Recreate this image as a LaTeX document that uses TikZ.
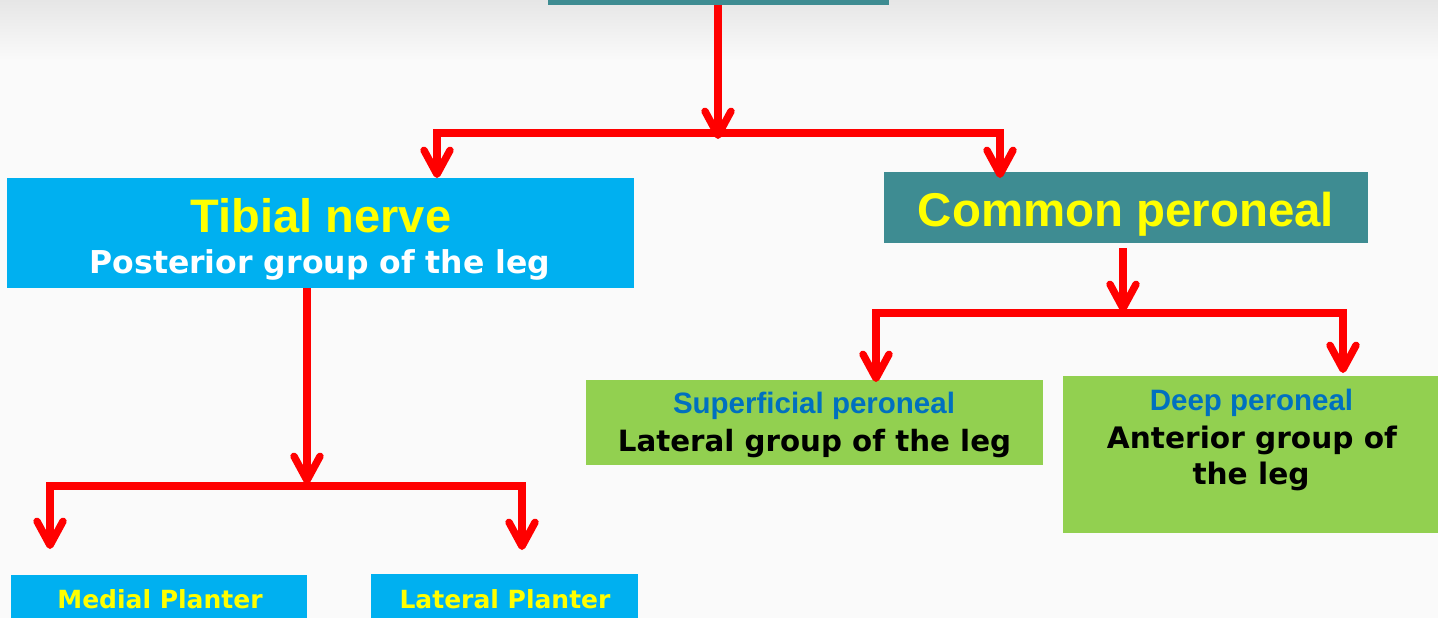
\documentclass[tikz,border=0pt]{standalone}
\usepackage{fontspec}
\setmainfont{Liberation Sans}
\newfontfamily\verd{DejaVu Sans}
\usetikzlibrary{arrows.meta}
\definecolor{tibblue}{HTML}{00B0F0}
\definecolor{tealbox}{HTML}{3E8C92}
\definecolor{grn}{HTML}{92D050}
\definecolor{ylw}{HTML}{FFFF00}
\definecolor{txtblue}{HTML}{0070C0}
\definecolor{bg}{HTML}{FAFAFA}
\definecolor{bgtop}{HTML}{E6E6E6}
\tikzset{
  box/.style={draw=none, inner sep=0pt, outer sep=0pt, anchor=north west},
  conn/.style={draw=red, line width=7.4pt, line join=miter},
  tip/.style={-{Straight Barb[length=24pt,width=26pt,round]}},
  tips/.style={{Straight Barb[length=24pt,width=26pt,round]}-{Straight Barb[length=24pt,width=26pt,round]}},
  txt/.style={anchor=base, inner sep=0pt},
  ttl/.style={txt, font=\fontsize{47}{47}\selectfont\bfseries, text=ylw},
  sub/.style={txt, font=\verd\fontsize{#1}{#1}\selectfont\bfseries},
  blu/.style={txt, font=\fontsize{29.5}{29.5}\selectfont\bfseries, text=txtblue},
}
\begin{document}
\begin{tikzpicture}[x=1pt, y=-1pt]
\useasboundingbox (0,0) rectangle (1438,618);
\clip (0,0) rectangle (1438,618);
\fill[bg] (0,0) rectangle (1438,618);
\shade[top color=bgtop, bottom color=bg] (0,0) rectangle (1438,60);

% boxes
\node[box, fill=tealbox, minimum width=341pt, minimum height=60pt, anchor=south west] (top) at (548,5) {};
\node[box, fill=tibblue, minimum width=627pt, minimum height=110pt] (tib) at (7,178) {};
\node[box, fill=tealbox, minimum width=484pt, minimum height=71pt] (com) at (884,172) {};
\node[box, fill=grn, minimum width=457pt, minimum height=85pt] (sup) at (586,380) {};
\node[box, fill=grn, minimum width=380pt, minimum height=157pt] (deep) at (1063,376) {};
\node[box, fill=tibblue, minimum width=296pt, minimum height=60pt] (med) at (11,575) {};
\node[box, fill=tibblue, minimum width=267pt, minimum height=60pt] (lat) at (371,574) {};

% texts
\node[ttl] (tibT) at (321,232) {Tibial nerve};
\node[sub=31.5, text=white] (tibS) at (320,273) {Posterior group of the leg};
\node[ttl, font=\fontsize{47.4}{47.4}\selectfont\bfseries] (comT) at (1126,226) {Common peroneal};
\node[blu] (supT) at (814,413) {Superficial peroneal};
\node[sub=29.3, text=black] (supS) at (814.5,451) {Lateral group of the leg};
\node[blu] (deepT) at (1251.5,410) {Deep peroneal};
\node[sub=29.6, text=black] (deepS1) at (1252,448) {Anterior group of};
\node[sub=29.6, text=black] (deepS2) at (1251,484) {the leg};
\node[sub=25, text=ylw] (medT) at (160,608) {Medial Planter};
\node[sub=25, text=ylw] (latT) at (505,608) {Lateral Planter};

% junction coordinates
\coordinate (j0) at (718,139);
\coordinate (b0l) at (437,133);
\coordinate (b0r) at (1000,133);
\coordinate (e0l) at (437,178);
\coordinate (e0r) at (1000,178);

\coordinate (j1) at (1123,312);
\coordinate (b1l) at (876,313);
\coordinate (b1r) at (1343,313);
\coordinate (e1l) at (876,382);
\coordinate (e1r) at (1343,373);

\coordinate (j2) at (307,484);
\coordinate (b2l) at (50,486);
\coordinate (b2r) at (522,486);
\coordinate (e2l) at (50,549);
\coordinate (e2r) at (522,550);

% connectors
\draw[conn, tip] (top.south -| j0) -- (j0);
\draw[conn, tips] (e0l) -- (b0l) -- (b0r) -- (e0r);

\draw[conn, tip] (com.south -| j1) ++(0,5) -- (j1);
\draw[conn, tips] (e1l) -- (b1l) -- (b1r) -- (e1r);

\draw[conn, tip] (tib.south -| j2) -- (j2);
\draw[conn, tips] (e2l) -- (b2l) -- (b2r) -- (e2r);
\end{tikzpicture}
\end{document}
